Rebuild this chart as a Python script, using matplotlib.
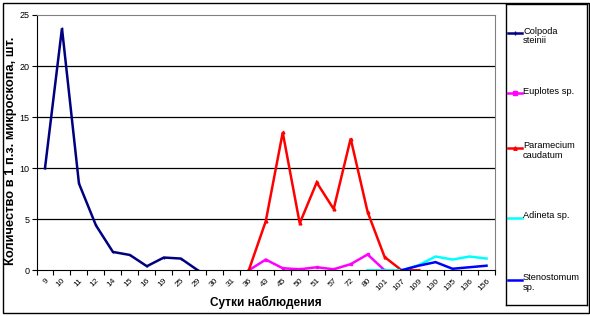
#Plots the number of protozoa per microscope field of view
#against the day of observation, Excel-style line chart

import numpy as np
import matplotlib.pyplot as plt
from matplotlib.lines import Line2D

nan = np.nan

### data ###
days = ['9', '10', '11', '12', '14', '15', '16', '19', '25', '29', '30', '31', '36',
        '43', '45', '50', '51', '57', '72', '80', '101', '107', '109', '130', '135',
        '136', '156']

colpoda = [10.0, 23.7, 8.5, 4.4, 1.8, 1.5, 0.4, 1.25, 1.15, 0.0] + [nan]*17
euplotes = [nan]*12 + [0.0, 1.05, 0.2, 0.1, 0.3, 0.1, 0.6, 1.55, 0.0] + [nan]*6
paramecium = [nan]*12 + [0.0, 4.8, 13.5, 4.6, 8.6, 6.0, 12.9, 5.7, 1.3, 0.0, 0.0] + [nan]*4
adineta = [nan]*19 + [0.0, 0.0, 0.0, 0.5, 1.35, 1.05, 1.35, 1.15]
stenostomum = [nan]*21 + [0.0, 0.45, 0.8, 0.15, 0.3, 0.45]

names = ['Colpoda\nsteinii', 'Euplotes sp.', 'Paramecium\ncaudatum', 'Adineta sp.',
         'Stenostomum\nsp.']
series = [colpoda, euplotes, paramecium, adineta, stenostomum]
colors = ['#000080', '#FF00FF', '#FF0000', '#00FFFF', '#0000FF']
markers = ['|', 's', '^', None, None]

plt.rcParams['font.family'] = ['Liberation Sans', 'DejaVu Sans']

W, H = 590, 316
fig = plt.figure(figsize=(W/100, H/100), dpi=100)

# outer chart border
fig.patches.append(plt.Rectangle((3/W, 3/H), 586/W, 310/H, transform=fig.transFigure,
                                 fill=False, edgecolor='black', linewidth=1))

### plot area ###
ax = fig.add_axes([36.5/W, (H-270.3)/H, (495-36.5)/W, (270.3-15)/H])
x = np.arange(len(days))
for vals, c, m in zip(series, colors, markers):
    ax.plot(x, vals, color=c, linewidth=1.8, marker=m, markersize=2,
            markeredgewidth=1, solid_joinstyle='miter')

ax.set_xlim(-0.5, len(days) - 0.5)
ax.set_ylim(0, 25)
ax.set_yticks(range(0, 26, 5))
ax.tick_params(axis='y', labelsize=6.5, length=3.5, width=0.8, pad=1.5)

# tick marks on category boundaries, labels on centers
ax.set_xticks(np.arange(len(days) + 1) - 0.5)
ax.set_xticklabels([])
ax.tick_params(axis='x', which='major', length=3.5, width=0.8)
ax.set_xticks(x, days, minor=True)
ax.tick_params(axis='x', which='minor', length=0, labelsize=6, pad=5)
for lab in ax.get_xticklabels(minor=True):
    lab.set_rotation(45)
    lab.set_ha('right')
    lab.set_va('top')
    lab.set_rotation_mode('anchor')

for yv in range(5, 25, 5):
    ax.axhline(yv, color='black', linewidth=0.9, zorder=0)
ax.spines['top'].set_color('#808080')
ax.spines['right'].set_color('#808080')

ax.set_xlabel('Сутки наблюдения', fontsize=8.5, fontweight='bold', labelpad=3)
ax.set_ylabel('Количество в 1 п.з. микроскопа, шт.', fontsize=9.3, fontweight='bold')
ax.yaxis.set_label_coords(-0.043, 0.467)

### legend box ###
lax = fig.add_axes([506/W, (H-305)/H, 81/W, 301/H])
lax.set_xlim(0, 81)
lax.set_ylim(301, 0)
lax.set_xticks([])
lax.set_yticks([])
for s in lax.spines.values():
    s.set_linewidth(1)
entry_y = [29, 89, 144, 214, 276]   # pixel rows of legend samples inside the box
for name, c, m, yc in zip(names, colors, markers, entry_y):
    lax.add_line(Line2D([2, 16], [yc, yc], color=c, linewidth=1.8))
    if m is not None:
        lax.add_line(Line2D([9], [yc], color=c, marker=m, markersize=2.5, markeredgewidth=1))
    lax.text(17, yc - 6.5, name, fontsize=6.7, va='top', ha='left', linespacing=1.1)

fig.savefig('out.png', dpi=100)
